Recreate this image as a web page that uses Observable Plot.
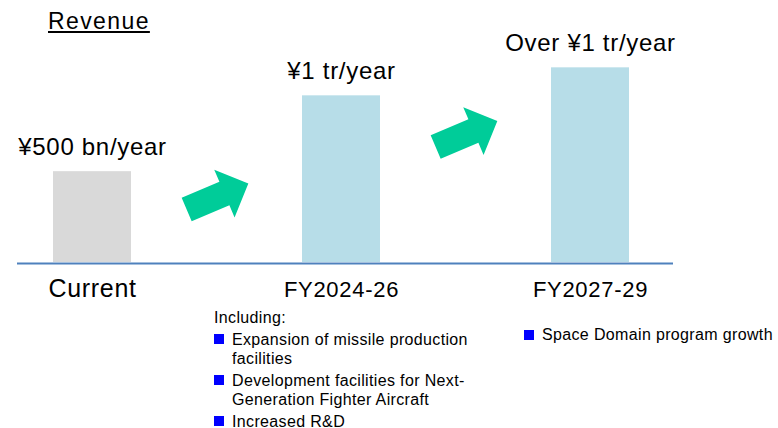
<!DOCTYPE html>
<html><head><meta charset="utf-8">
<script src="https://cdn.jsdelivr.net/npm/d3@7"></script>
<script src="https://cdn.jsdelivr.net/npm/@observablehq/plot@0.6"></script>
<style>
body{margin:0;background:#fff;font-family:"Liberation Sans",Arial,sans-serif;color:#000}
#wrap{position:relative;width:778px;height:428px;overflow:hidden}
#chart{position:absolute;left:0;top:0}
#title{position:absolute;left:48px;top:10px;font-size:23px;line-height:23px;letter-spacing:1.4px;text-decoration:underline;text-underline-offset:2px;text-decoration-thickness:1.5px}
.notes{position:absolute;font-size:16px;line-height:19.5px;letter-spacing:0.35px;white-space:nowrap}
.item{position:relative;padding-left:18px;margin-top:2px}
.item::before{content:"";position:absolute;left:0;top:4.5px;width:10px;height:10px;background:#0000FF}
</style></head><body>
<div id="wrap"><div id="chart"></div><div id="title">Revenue</div><div id="notes1" class="notes"></div><div id="notes2" class="notes"></div></div>
<script>
// ---- data ----
const categories = ["Current", "FY2024-26", "FY2027-29"];
const revenue = [545, 1000, 1168];            // bar heights (¥bn, read against the ¥1 tr bar)
const valueLabels = ["¥500 bn/year", "¥1 tr/year", "Over ¥1 tr/year"];
const arrowFrom = ["Current", "FY2024-26"];   // arrow between this category and the next
const arrowLevel = [396, 771];                // arrow height on the revenue axis
const chartTitle = "Revenue";
const noteHeading = "Including:";
const notesFY2024 = ["Expansion of missile production\nfacilities", "Development facilities for Next-\nGeneration Fighter Aircraft", "Increased R&D"];
const notesFY2027 = ["Space Domain program growth"];

// ---- build ----
const bars = categories.map((c, i) => ({category: c, value: revenue[i], label: valueLabels[i]}));
const arrows = arrowFrom.map((c, i) => ({category: c, level: arrowLevel[i]}));

const blockArrow = {
  draw(context, l) {
    const sw = 12.8, hw = 26, hl = 26;
    context.moveTo(-sw, 0);
    context.lineTo(-sw, hl - l);
    context.lineTo(-hw, hl - l);
    context.lineTo(0, -l);
    context.lineTo(hw, hl - l);
    context.lineTo(sw, hl - l);
    context.lineTo(sw, 0);
    context.closePath();
  }
};

const font = '"Liberation Sans", Arial, sans-serif';
const chart = Plot.plot({
  width: 778,
  height: 300,
  marginLeft: 2,
  marginRight: 98,
  marginTop: 12,
  marginBottom: 38,
  style: {fontFamily: font, letterSpacing: "0.7px", background: "transparent"},
  x: {domain: categories, type: "band", paddingInner: 0.688, paddingOuter: 0.2, axis: null},
  y: {domain: [0, 1500], axis: null},
  marks: [
    Plot.barY(bars, {x: "category", y: "value", fill: d => d.category === "Current" ? "#D9D9D9" : "#B7DDE8"}),
    Plot.ruleY([0], {stroke: "#4F81BD", strokeWidth: 2, insetLeft: 15, insetRight: 7, dy: 1}),
    Plot.text(bars, {x: "category", y: "value", text: "label", lineAnchor: "bottom", dy: -17, fontSize: 24, fill: "#000"}),
    Plot.text(bars, {x: "category", y: () => 0, text: "category", lineAnchor: "bottom", dy: 34,
      fontSize: d => d.category === "Current" ? 25 : 22, fill: "#000"}),
    Plot.vector(arrows, {x: "category", y: "level", length: 67, rotate: 67, anchor: "middle",
      shape: blockArrow, fill: "#00CC99", stroke: "none", dx: 125})
  ]
});
document.getElementById("chart").append(chart);
document.getElementById("title").textContent = chartTitle;

function fillNotes(el, heading, items) {
  if (heading) {
    const h = document.createElement("div");
    h.textContent = heading;
    el.append(h);
  }
  for (const it of items) {
    const d = document.createElement("div");
    d.className = "item";
    it.split("\n").forEach((line, k) => {
      if (k) d.append(document.createElement("br"));
      d.append(document.createTextNode(line));
    });
    el.append(d);
  }
}
const n1 = document.getElementById("notes1");
n1.style.left = "214px"; n1.style.top = "308px";
fillNotes(n1, noteHeading, notesFY2024);
const n2 = document.getElementById("notes2");
n2.style.left = "524px"; n2.style.top = "323px";
fillNotes(n2, null, notesFY2027);
</script>
</body></html>
